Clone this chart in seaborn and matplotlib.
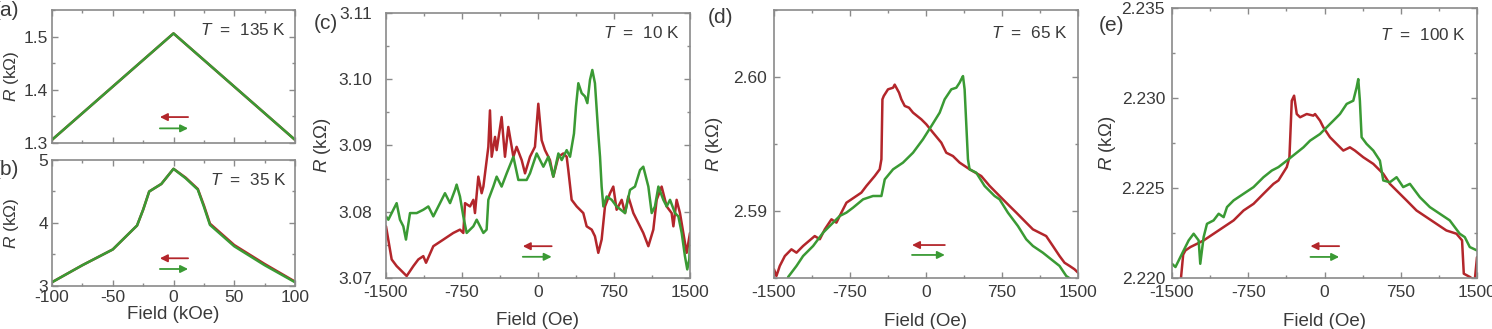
import numpy as np
import pandas as pd
import seaborn as sns
import matplotlib.pyplot as plt
from matplotlib.ticker import MultipleLocator, FormatStrFormatter

# ---- data ----
# (a) T = 135 K, field in kOe
a_field = [-100, 0, 100]
a_red = [1.306, 1.506, 1.306]
a_green = [1.306, 1.506, 1.306]

# (b) T = 35 K, field in kOe
b_field = [-100, -75, -50, -30, -25, -20, -10, 0, 10, 20, 25, 30, 50, 75, 100]
b_red = [3.06, 3.33, 3.58, 3.96, 4.21, 4.50, 4.62, 4.86, 4.72, 4.54, 4.28, 3.99, 3.65, 3.35, 3.07]
b_green = [3.06, 3.33, 3.58, 3.96, 4.21, 4.50, 4.62, 4.86, 4.71, 4.53, 4.26, 3.97, 3.63, 3.33, 3.06]

# (c) T = 10 K, field in Oe
c_red_x = [-1500, -1444, -1395, -1296, -1230, -1181, -1132, -1105, -1033, -934, -836, -770, -737, -720,
           -671, -638, -622, -589, -556, -539, -490, -474, -457, -424, -408, -359, -326, -293, -243, -211,
           -161, -128, -79, -30, 3, 36, 69, 118, 151, 201, 250, 283, 299, 332, 382, 447, 480, 530, 562, 595,
           628, 661, 711, 743, 776, 826, 859, 891, 941, 1039, 1089, 1138, 1171, 1220, 1270, 1319, 1336,
           1368, 1401, 1434, 1467, 1500]
c_red_r = [3.0778, 3.0728, 3.0718, 3.0703, 3.0718, 3.0728, 3.0733, 3.0723, 3.0748, 3.0758, 3.0768, 3.0773,
           3.0768, 3.0813, 3.0808, 3.0818, 3.0798, 3.0853, 3.0828, 3.0838, 3.0898, 3.0953, 3.0883, 3.0913,
           3.0893, 3.0943, 3.0883, 3.0928, 3.0883, 3.0898, 3.0878, 3.0858, 3.0883, 3.0898, 3.0963, 3.0908,
           3.0893, 3.0878, 3.0853, 3.0883, 3.0888, 3.0883, 3.0863, 3.0818, 3.0808, 3.0798, 3.0778, 3.0773,
           3.0763, 3.0738, 3.0758, 3.0808, 3.0828, 3.0838, 3.0803, 3.0818, 3.0798, 3.0823, 3.0798, 3.0768,
           3.0748, 3.0773, 3.0818, 3.0838, 3.0808, 3.0798, 3.0778, 3.0818, 3.0798, 3.0768, 3.0738, 3.0768]
c_green_x = [-1500, -1477, -1395, -1362, -1329, -1303, -1263, -1197, -1132, -1082, -1033, -967, -918, -868,
             -819, -803, -770, -737, -704, -638, -605, -539, -507, -490, -441, -408, -359, -309, -243, -194,
             -112, -79, -46, -13, 53, 102, 151, 201, 234, 283, 316, 355, 375, 398, 431, 464, 487, 513, 536,
             562, 595, 612, 628, 645, 678, 727, 776, 859, 908, 957, 1007, 1039, 1089, 1122, 1154, 1188, 1237,
             1270, 1303, 1352, 1385, 1418, 1450, 1473, 1493, 1500]
c_green_r = [3.0793, 3.0788, 3.0813, 3.0788, 3.0778, 3.0758, 3.0798, 3.0798, 3.0803, 3.0808, 3.0793, 3.0813,
             3.0828, 3.0813, 3.0833, 3.0841, 3.0823, 3.0793, 3.0768, 3.0778, 3.0788, 3.0768, 3.0773, 3.0818,
             3.0838, 3.0853, 3.0838, 3.0858, 3.0883, 3.0848, 3.0848, 3.0858, 3.0873, 3.0888, 3.0868, 3.0883,
             3.0853, 3.0888, 3.0878, 3.0893, 3.0883, 3.0918, 3.0959, 3.0994, 3.0979, 3.0974, 3.0964, 3.0999,
             3.1014, 3.0994, 3.0918, 3.0883, 3.0838, 3.0808, 3.0823, 3.0818, 3.0808, 3.0798, 3.0833, 3.0838,
             3.0863, 3.0868, 3.0838, 3.0798, 3.0808, 3.0838, 3.0818, 3.0808, 3.0818, 3.0798, 3.0793, 3.0768,
             3.0733, 3.0713, 3.0728, 3.0753]

# (d) T = 65 K
d_red_x = [-1500, -1476, -1443, -1393, -1328, -1278, -1213, -1098, -1048, -999, -933, -884, -835, -785, -687,
           -638, -588, -506, -457, -440, -430, -417, -375, -325, -309, -266, -243, -210, -168, -128, -46, 3,
           69, 151, 200, 266, 332, 431, 545, 628, 726, 825, 891, 989, 1055, 1186, 1252, 1318, 1367, 1417,
           1466, 1500]
d_red_r = [2.58565, 2.58515, 2.58590, 2.58664, 2.58714, 2.58689, 2.58739, 2.58813, 2.58789, 2.58863,
           2.58938, 2.58913, 2.58988, 2.59062, 2.59112, 2.59137, 2.59187, 2.59261, 2.59311, 2.59386,
           2.59833, 2.59858, 2.59908, 2.59920, 2.59943, 2.59883, 2.59833, 2.59784, 2.59771, 2.59734,
           2.59684, 2.59647, 2.59585, 2.59510, 2.59435, 2.59410, 2.59361, 2.59311, 2.59261, 2.59187,
           2.59112, 2.59037, 2.58988, 2.58913, 2.58863, 2.58813, 2.58739, 2.58664, 2.58614, 2.58590,
           2.58565, 2.58540]
d_green_x = [-1361, -1278, -1213, -1114, -1016, -917, -851, -785, -720, -621, -523, -440, -407, -325, -227,
             -128, -30, 53, 135, 184, 250, 299, 332, 348, 365, 381, 414, 430, 496, 578, 677, 726, 808, 907,
             989, 1055, 1153, 1236, 1318, 1384, 1433]
d_green_r = [2.58507, 2.58590, 2.58664, 2.58739, 2.58838, 2.58913, 2.58963, 2.58988, 2.59025, 2.59087,
             2.59112, 2.59112, 2.59236, 2.59311, 2.59361, 2.59435, 2.59535, 2.59634, 2.59734, 2.59833,
             2.59908, 2.59920, 2.59958, 2.59983, 2.60007, 2.59908, 2.59386, 2.59311, 2.59286, 2.59187,
             2.59112, 2.59087, 2.58988, 2.58888, 2.58789, 2.58739, 2.58689, 2.58639, 2.58590, 2.58515,
             2.58490]

# (e) T = 100 K
e_red_x = [-1500, -1420, -1390, -1368, -1319, -1254, -1188, -1090, -992, -894, -796, -698, -600, -502, -453,
           -371, -345, -322, -299, -273, -240, -175, -110, -93, -44, -11, 54, 119, 185, 250, 299, 381, 480,
           578, 643, 741, 807, 905, 1003, 1101, 1199, 1298, 1353, 1370, 1429, 1478, 1500]
e_red_r = [2.2185, 2.2195, 2.2213, 2.22153, 2.22172, 2.22190, 2.22209, 2.22246, 2.22283, 2.22320, 2.22375,
           2.22412, 2.22468, 2.22523, 2.22542, 2.22616, 2.22671, 2.22985, 2.23013, 2.22911, 2.22893,
           2.22911, 2.22902, 2.22911, 2.22874, 2.22837, 2.22782, 2.22745, 2.22708, 2.22726, 2.22708,
           2.22671, 2.22634, 2.22579, 2.22523, 2.22468, 2.22431, 2.22375, 2.22338, 2.22301, 2.22264,
           2.22246, 2.22209, 2.22024, 2.22006, 2.21987, 2.22116]
e_green_x = [-1500, -1466, -1418, -1336, -1287, -1238, -1222, -1189, -1156, -1091, -1041, -992, -959, -894,
             -796, -698, -600, -518, -453, -371, -289, -207, -142, -44, 21, 87, 152, 218, 283, 316, 332, 348,
             365, 414, 480, 545, 578, 643, 709, 774, 840, 938, 1036, 1134, 1232, 1330, 1380, 1429, 1500]
e_green_r = [2.22079, 2.22061, 2.22116, 2.22209, 2.22246, 2.22209, 2.22079, 2.22227, 2.22301, 2.22320,
             2.22357, 2.22338, 2.22394, 2.22431, 2.22468, 2.22505, 2.22560, 2.22597, 2.22616, 2.22652,
             2.22689, 2.22726, 2.22763, 2.22800, 2.22837, 2.22874, 2.22911, 2.22967, 2.22985, 2.23059,
             2.23105, 2.22985, 2.22782, 2.22745, 2.22708, 2.22652, 2.22542, 2.22532, 2.22560, 2.22505,
             2.22523, 2.22449, 2.22394, 2.22357, 2.22320, 2.22246, 2.22227, 2.22172, 2.22153]

temps = ["135", "35", "10", "65", "100"]

RED = "#b3262b"
GREEN = "#3a9a34"
TXT = "#3a3a3a"
SPINE = "#8a8a8a"

sns.set_style("ticks")
plt.rcParams["font.family"] = ["Liberation Sans", "DejaVu Sans"]
plt.rcParams["mathtext.fontset"] = "custom"
plt.rcParams["mathtext.it"] = "Liberation Sans:italic"
plt.rcParams["mathtext.rm"] = "Liberation Sans"
plt.rcParams["axes.unicode_minus"] = False

W, H = 1492, 329
fig = plt.figure(figsize=(W / 100, H / 100), dpi=100)


def box(l, t, r, b):
    return [l / W, 1 - b / H, (r - l) / W, (b - t) / H]


ax_a = fig.add_axes(box(52, 10, 295, 143))
ax_b = fig.add_axes(box(52, 160, 295, 286))
ax_c = fig.add_axes(box(386, 13, 690, 278))
ax_d = fig.add_axes(box(774, 10, 1078, 278))
ax_e = fig.add_axes(box(1172, 8, 1477, 278))


def draw(ax, xr, yr, xg, yg):
    sns.lineplot(x=xr, y=yr, ax=ax, color=RED, lw=1.8, sort=False, estimator=None)
    sns.lineplot(x=xg, y=yg, ax=ax, color=GREEN, lw=1.8, sort=False, estimator=None)


draw(ax_a, a_field, a_red, a_field, a_green)
draw(ax_b, b_field, b_red, b_field, b_green)
draw(ax_c, c_red_x, c_red_r, c_green_x, c_green_r)
draw(ax_d, d_red_x, d_red_r, d_green_x, d_green_r)
draw(ax_e, e_red_x, e_red_r, e_green_x, e_green_r)

# limits and ticks
setup = [
    (ax_a, (-100, 100), 50, 25, (1.3, 1.55), 0.1, 0.05, "%.1f", 3),
    (ax_b, (-100, 100), 50, 25, (3, 5), 1, 0.5, "%d", 3),
    (ax_c, (-1500, 1500), 750, 375, (3.07, 3.11), 0.01, 0.005, "%.2f", 10),
    (ax_d, (-1500, 1500), 750, 375, (2.585, 2.605), 0.01, 0.005, "%.2f", 5),
    (ax_e, (-1500, 1500), 750, 375, (2.220, 2.235), 0.005, 0.0025, "%.3f", 5),
]
for ax, xl, xM, xm, yl, yM, ym, fmt, ypad in setup:
    ax.set_xlim(*xl)
    ax.set_ylim(*yl)
    ax.xaxis.set_major_locator(MultipleLocator(xM))
    ax.xaxis.set_minor_locator(MultipleLocator(xm))
    ax.yaxis.set_major_locator(MultipleLocator(yM))
    ax.yaxis.set_minor_locator(MultipleLocator(ym))
    ax.yaxis.set_major_formatter(FormatStrFormatter(fmt))
    ax.tick_params(which="both", direction="in", top=True, right=True, color=SPINE,
                   labelcolor=TXT, labelsize=12.5, width=1)
    ax.tick_params(which="major", length=4)
    ax.tick_params(which="minor", length=2.5)
    ax.tick_params(axis="y", pad=ypad)
    ax.tick_params(axis="x", pad=3 if ax in (ax_a, ax_b) else 5)
    for s in ax.spines.values():
        s.set_color(SPINE)
        s.set_linewidth(1.2)
    ax.set_xlabel("")
    ax.set_ylabel("")

ax_a.tick_params(axis="x", labelbottom=False)

# axis labels
ylab = r"$R$ (k$\Omega$)"
for ax, xc, fs in [(ax_a, -0.128, 12.5), (ax_b, -0.128, 12.5), (ax_c, -0.174, 13.5),
                   (ax_d, -0.161, 13.5), (ax_e, -0.177, 13.5)]:
    ax.set_ylabel(ylab, fontsize=fs, color=TXT)
    ax.yaxis.set_label_coords(xc, 0.5)

ax_b.set_xlabel("Field (kOe)", fontsize=13.5, color=TXT)
ax_b.xaxis.set_label_coords(0.5, -0.16)
for ax, yc in [(ax_c, -0.128), (ax_d, -0.13), (ax_e, -0.13)]:
    ax.set_xlabel("Field (Oe)", fontsize=13.5, color=TXT)
    ax.xaxis.set_label_coords(0.5, yc)

# temperature labels
for ax, t, ty in zip([ax_a, ax_b, ax_c, ax_d, ax_e], temps, [0.91, 0.905, 0.955, 0.944, 0.93]):
    ax.text(0.965, ty, r"$T$  =  " + t + " K", transform=ax.transAxes, ha="right", va="top",
            fontsize=12.3, color=TXT)

# sweep direction arrows
arrows = [
    (ax_a, 0.444, 0.56, 0.195, 0.11),
    (ax_b, 0.444, 0.56, 0.22, 0.135),
    (ax_c, 0.45, 0.545, 0.12, 0.08),
    (ax_d, 0.454, 0.562, 0.123, 0.086),
    (ax_e, 0.454, 0.548, 0.118, 0.078),
]
for ax, x0, x1, yr, yg in arrows:
    ax.annotate("", xy=(x0, yr), xytext=(x1, yr), xycoords="axes fraction",
                arrowprops=dict(arrowstyle="-|>", color=RED, lw=1.3, mutation_scale=11,
                                shrinkA=0, shrinkB=0))
    ax.annotate("", xy=(x1, yg), xytext=(x0, yg), xycoords="axes fraction",
                arrowprops=dict(arrowstyle="-|>", color=GREEN, lw=1.3, mutation_scale=11,
                                shrinkA=0, shrinkB=0))

# panel letters (the left "(" of a/b falls off the canvas, as in the source)
for lab, px, py, ha in [("(a)", 19, 1, "right"), ("(b)", 19, 160, "right"), ("(c)", 314, 14, "left"),
                        ("(d)", 708, 8, "left"), ("(e)", 1099, 16, "left")]:
    fig.text(px / W, 1 - py / H, lab, ha=ha, va="top", fontsize=15, color=TXT)

fig.savefig("out.png", dpi=100)
